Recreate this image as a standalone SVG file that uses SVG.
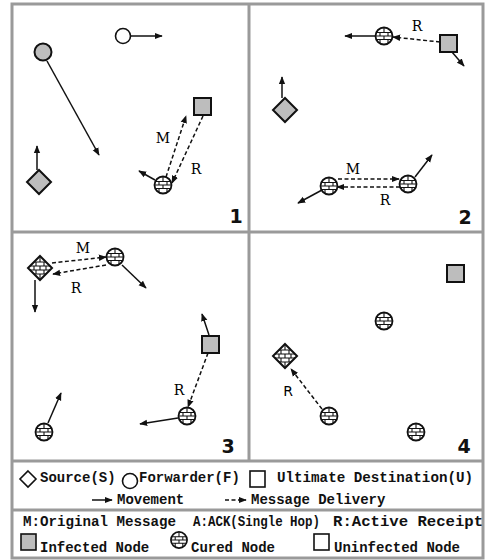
<svg xmlns="http://www.w3.org/2000/svg" xmlns:xlink="http://www.w3.org/1999/xlink" width="485" height="560" viewBox="0 0 485 560">
<style>
.frame{fill:none;stroke:#9a9a9a;stroke-width:3}
.gray{fill:#bdbdbd;stroke:#111;stroke-width:2}
.open{fill:#fff;stroke:#111;stroke-width:1.6}
.mv{stroke:#111;stroke-width:1.5;fill:none;marker-end:url(#ah)}
.dl{stroke:#111;stroke-width:1.5;fill:none;stroke-dasharray:4 2.5;marker-end:url(#ah)}
.lbl{font-family:"DejaVu Serif","Liberation Serif",serif;font-size:14px;fill:#000;text-anchor:middle}
.lbls{font-family:"DejaVu Sans","Liberation Sans",sans-serif;font-size:14px;fill:#000;text-anchor:middle}
.num{font-family:"DejaVu Sans","Liberation Sans",sans-serif;font-weight:bold;font-size:19px;fill:#111;text-anchor:middle}
.leg{font-family:"Liberation Mono","Courier New",monospace;font-weight:bold;font-size:14px;fill:#111}
</style>
<defs>
<marker id="ah" viewBox="0 0 10 10" refX="9" refY="5" markerWidth="8" markerHeight="8" orient="auto" markerUnits="userSpaceOnUse">
<path d="M0,1 L10,5 L0,9 Z" fill="#111"/>
</marker>
<clipPath id="cc"><circle r="8.5"/></clipPath>
<clipPath id="dc"><polygon points="0,-12 12,0 0,12 -12,0"/></clipPath>
<g id="curedC">
<circle r="8.5" fill="#fff"/>
<g clip-path="url(#cc)" stroke="#111" stroke-width="1.1">
<path d="M-9,-3.5H9M-9,0H9M-9,3.5H9M0,-9V-3.5M-4,-3.5V0M4,-3.5V0M0,0V3.5M-4,3.5V9M4,3.5V9"/>
</g>
<circle r="8.5" fill="none" stroke="#111" stroke-width="1.8"/>
</g>
<g id="curedD">
<polygon points="0,-12 12,0 0,12 -12,0" fill="#fff"/>
<g clip-path="url(#dc)" stroke="#111" stroke-width="1.1">
<path d="M-12,-6H12M-12,-2H12M-12,2H12M-12,6H12M0,-12V-6M-4,-6V-2M4,-6V-2M0,-2V2M-6,-2V2M6,-2V2M-4,2V6M4,2V6M0,6V12"/>
</g>
<polygon points="0,-12 12,0 0,12 -12,0" fill="none" stroke="#111" stroke-width="2"/>
</g>
</defs>
<rect width="485" height="560" fill="#fff"/>
<g id="frame">
<rect class="frame" x="12" y="4" width="471" height="554"/>
<line class="frame" x1="249" y1="4" x2="249" y2="461"/>
<line class="frame" x1="12" y1="232" x2="483" y2="232"/>
<line class="frame" x1="12" y1="461" x2="483" y2="461"/>
<line class="frame" x1="12" y1="510" x2="483" y2="510"/>
</g>
<g id="connectors">
<path class="mv" d="M130,36 L162,36"/>
<path class="mv" d="M47,61 L99,155"/>
<path class="mv" d="M37,170 L37,146"/>
<path class="mv" d="M155,180 L139,171"/>
<path class="dl" d="M166,177 L186,116"/>
<path class="dl" d="M203,116 L172,183"/>
<path class="mv" d="M376,36 L345,36"/>
<path class="mv" d="M452,52 L464,66"/>
<path class="dl" d="M440,42 L393,37"/>
<path class="mv" d="M282,98 L282,77"/>
<path class="mv" d="M322,190 L298,203"/>
<path class="mv" d="M415,177 L432,155"/>
<path class="dl" d="M338,179 L399,179"/>
<path class="dl" d="M400,187 L337,187"/>
<path class="mv" d="M35,280 L35,312"/>
<path class="mv" d="M122,265 L146,288"/>
<path class="dl" d="M52,263 L106,257"/>
<path class="dl" d="M106,265 L53,274"/>
<path class="mv" d="M209,335 L202,314"/>
<path class="dl" d="M208,353 L188,407"/>
<path class="mv" d="M178,418 L140,424"/>
<path class="mv" d="M48,423 L61,393"/>
<path class="dl" d="M322,409 L291,369"/>
<path class="mv" d="M92,500 L112,500"/>
<path class="dl" d="M225,500 L246,500" stroke-dasharray="6 3"/>
</g>
<g id="p1_forwarder"><circle class="open" cx="123" cy="36" r="7.5"/></g>
<g id="p1_infected"><circle class="gray" cx="43" cy="52" r="8.5"/></g>
<g id="p1_dest"><rect class="gray" x="194" y="98" width="17" height="17"/></g>
<g id="p1_source"><polygon class="gray" points="39,170 51,182 39,194 27,182"/></g>
<g id="p1_cured"><use xlink:href="#curedC" href="#curedC" x="163" y="185"/></g>
<g id="p1_labels"><text class="lbl" x="163" y="143">M</text><text class="lbl" x="196" y="174">R</text><text class="num" x="236" y="223">1</text></g>

<g id="p2_cured_a"><use xlink:href="#curedC" href="#curedC" x="384" y="36"/></g>
<g id="p2_dest"><rect class="gray" x="440" y="35" width="17" height="17"/></g>
<g id="p2_source"><polygon class="gray" points="285,98 297,110 285,122 273,110"/></g>
<g id="p2_cured_b"><use xlink:href="#curedC" href="#curedC" x="329" y="186"/></g>
<g id="p2_cured_c"><use xlink:href="#curedC" href="#curedC" x="408" y="184"/></g>
<g id="p2_labels"><text class="lbl" x="417" y="31">R</text><text class="lbl" x="353" y="174">M</text><text class="lbl" x="385" y="205">R</text><text class="num" x="465" y="224">2</text></g>

<g id="p3_source"><use xlink:href="#curedD" href="#curedD" x="40" y="268"/></g>
<g id="p3_cured_a"><use xlink:href="#curedC" href="#curedC" x="115" y="257"/></g>
<g id="p3_dest"><rect class="gray" x="202" y="336" width="17" height="17"/></g>
<g id="p3_cured_b"><use xlink:href="#curedC" href="#curedC" x="187" y="416"/></g>
<g id="p3_cured_c"><use xlink:href="#curedC" href="#curedC" x="44" y="432"/></g>
<g id="p3_labels"><text class="lbl" x="83" y="253">M</text><text class="lbl" x="76" y="293">R</text><text class="lbl" x="179" y="395">R</text><text class="num" x="228" y="453">3</text></g>

<g id="p4_dest"><rect class="gray" x="447" y="265" width="17" height="17"/></g>
<g id="p4_cured_a"><use xlink:href="#curedC" href="#curedC" x="384" y="321"/></g>
<g id="p4_source"><use xlink:href="#curedD" href="#curedD" x="285" y="356"/></g>
<g id="p4_cured_b"><use xlink:href="#curedC" href="#curedC" x="329" y="416"/></g>
<g id="p4_cured_c"><use xlink:href="#curedC" href="#curedC" x="416" y="432"/></g>
<g id="p4_labels"><text class="lbls" x="288" y="396">R</text><text class="num" x="464" y="453">4</text></g>

<g id="legend">
<polygon points="28,471 36,479 28,487 20,479" fill="#fff" stroke="#111" stroke-width="1.6"/>
<text class="leg" x="40" y="482">Source(S)</text>
<circle cx="130" cy="481" r="7.5" fill="#fff" stroke="#111" stroke-width="1.6"/>
<text class="leg" x="139" y="482">Forwarder(F)</text>
<rect x="250" y="471" width="15" height="16" fill="#fff" stroke="#111" stroke-width="1.6"/>
<text class="leg" x="277" y="482" textLength="196" lengthAdjust="spacingAndGlyphs">Ultimate Destination(U)</text>
<text class="leg" x="117" y="504">Movement</text>
<text class="leg" x="251" y="504">Message Delivery</text>
<text class="leg" x="23" y="526" textLength="153" lengthAdjust="spacingAndGlyphs">M:Original Message</text>
<text class="leg" x="193" y="526" textLength="127" lengthAdjust="spacingAndGlyphs">A:ACK(Single Hop)</text>
<text class="leg" x="333" y="526" textLength="150" lengthAdjust="spacingAndGlyphs">R:Active Receipt</text>
<rect x="21" y="534" width="15" height="16" fill="#bdbdbd" stroke="#111" stroke-width="1.6"/>
<text class="leg" x="40" y="552">Infected Node</text>
<use xlink:href="#curedC" href="#curedC" transform="translate(179,540) scale(0.95)"/>
<text class="leg" x="191" y="552">Cured Node</text>
<rect x="314" y="534" width="15" height="16" fill="#fff" stroke="#111" stroke-width="1.6"/>
<text class="leg" x="334" y="552">Uninfected Node</text>
</g>
</svg>
